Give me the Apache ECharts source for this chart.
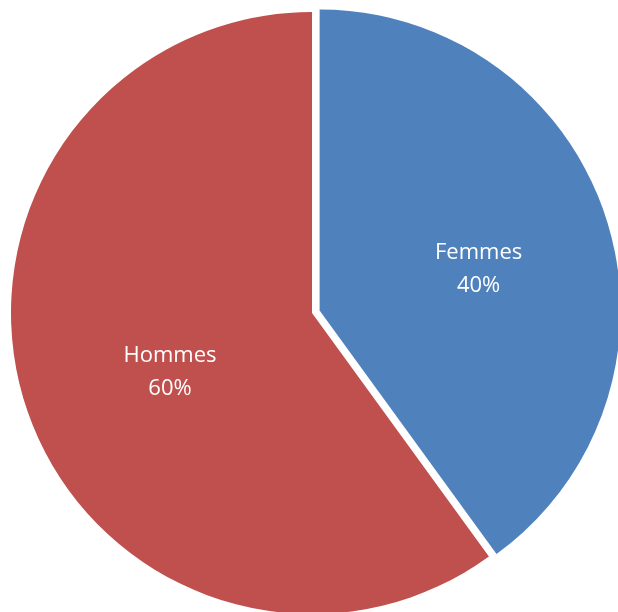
<!DOCTYPE html>
<html>
<head>
<meta charset="utf-8">
<style>html,body{margin:0;padding:0;background:#fff;}#chart{width:618px;height:612px;}</style>
<script src="https://cdn.jsdelivr.net/npm/echarts@6/dist/echarts.min.js"></script>
</head>
<body>
<div id="chart"></div>
<script>
const categories = ['Femmes', 'Hommes'];
const values = [40, 60];
const colors = ['#4F81BD', '#C0504D'];
const labelShift = [[13, 6], [4, 12]];

const chart = echarts.init(document.getElementById('chart'), null, {renderer: 'canvas'});
chart.setOption({
  animation: false,
  backgroundColor: '#ffffff',
  series: [{
    type: 'pie',
    center: [312, 313],
    radius: 301,
    startAngle: 90,
    clockwise: true,
    selectedMode: 'single',
    selectedOffset: 8,
    emphasis: {disabled: true},
    label: {
      show: true,
      position: 'inside',
      color: '#ffffff',
      fontFamily: 'Open Sans',
      fontSize: 22,
      lineHeight: 33,
      formatter: '{b}\n{d}%'
    },
    labelLine: {show: false},
    data: categories.map((c, i) => ({
      name: c,
      value: values[i],
      selected: i === 0,
      itemStyle: {color: colors[i]},
      label: {offset: labelShift[i]},
      select: {label: {offset: labelShift[i]}}
    }))
  }]
});
</script>
</body>
</html>
